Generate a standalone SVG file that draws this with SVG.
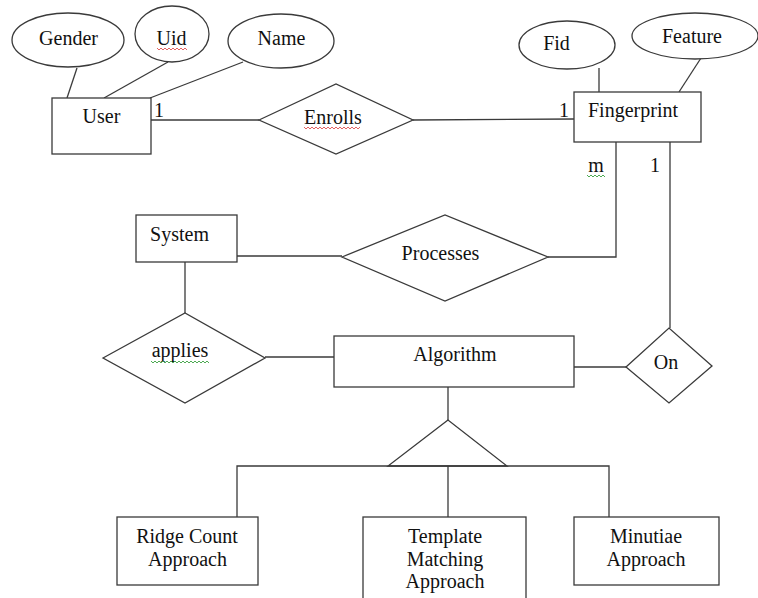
<svg xmlns="http://www.w3.org/2000/svg" width="758" height="598" viewBox="0 0 758 598">
<defs>
<style>
.s{fill:#fff;stroke:#3a3a3a;stroke-width:1.3}
.c{fill:none;stroke:#3a3a3a;stroke-width:1.3}
text{font-family:"Liberation Serif","Times New Roman",serif;font-size:20px;fill:#111;text-anchor:middle}
.sqr{fill:none;stroke:#e05050;stroke-width:0.9}
.sqg{fill:none;stroke:#3aa040;stroke-width:0.9}
</style>
</defs>
<rect width="758" height="598" fill="#fff"/>
<g id="connectors">
<line class="c" x1="77" y1="68" x2="67" y2="98"/>
<line class="c" x1="168" y1="62" x2="104" y2="98"/>
<line class="c" x1="243" y1="62" x2="150" y2="98"/>
<line class="c" x1="151" y1="120" x2="259" y2="120"/>
<line class="c" x1="413" y1="120" x2="574" y2="119"/>
<line class="c" x1="599" y1="68" x2="599" y2="92"/>
<line class="c" x1="701" y1="58" x2="679" y2="92"/>
<polyline class="c" points="616,142 616,257 548,257"/>
<line class="c" x1="670" y1="142" x2="670" y2="328"/>
<line class="c" x1="237" y1="256" x2="342" y2="256"/>
<line class="c" x1="185" y1="262" x2="185" y2="313"/>
<line class="c" x1="265" y1="357" x2="334" y2="357"/>
<line class="c" x1="574" y1="367" x2="626" y2="367"/>
<line class="c" x1="448" y1="387" x2="448" y2="420"/>
<polygon class="c" points="448,420 388,466 507,466"/>
<polyline class="c" points="237,517 237,466 609,466 609,517"/>
<line class="c" x1="448" y1="466" x2="448" y2="517"/>
</g>
<g id="gender"><ellipse class="s" cx="68" cy="40" rx="56" ry="27"/><text x="68.5" y="45">Gender</text></g>
<g id="uid"><ellipse class="s" cx="172" cy="34" rx="37" ry="28"/><text x="171.5" y="45">Uid</text><path class="sqr" d="M157,48 l2,2 l2,-2 l2,2 l2,-2 l2,2 l2,-2 l2,2 l2,-2 l2,2 l2,-2 l2,2 l2,-2 l2,2 l2,-2 l2,2"/></g>
<g id="name"><ellipse class="s" cx="281" cy="41" rx="53" ry="27"/><text x="281.5" y="45">Name</text></g>
<g id="user"><rect class="s" x="52" y="98" width="99" height="56"/><text x="101.5" y="123">User</text></g>
<g id="card-user"><text x="159" y="117">1</text></g>
<g id="enrolls"><polygon class="s" points="259,120 336,84 413,120 336,154"/><text x="333" y="124">Enrolls</text><path class="sqr" d="M304,127 l2,2 l2,-2 l2,2 l2,-2 l2,2 l2,-2 l2,2 l2,-2 l2,2 l2,-2 l2,2 l2,-2 l2,2 l2,-2 l2,2 l2,-2 l2,2 l2,-2 l2,2 l2,-2 l2,2 l2,-2 l2,2 l2,-2 l2,2 l2,-2 l2,2 l2,-2"/></g>
<g id="fid"><ellipse class="s" cx="567" cy="45" rx="48" ry="24"/><text x="556.5" y="50">Fid</text></g>
<g id="feature"><ellipse class="s" cx="695" cy="36" rx="63" ry="23"/><text x="692" y="43">Feature</text></g>
<g id="fingerprint"><rect class="s" x="574" y="92" width="127" height="50"/><text x="633" y="117">Fingerprint</text></g>
<g id="card-fp"><text x="564" y="117">1</text><text x="596" y="172">m</text><path class="sqg" d="M587,175 l2,2 l2,-2 l2,2 l2,-2 l2,2 l2,-2 l2,2 l2,-2 l2,2"/><text x="655" y="172">1</text></g>
<g id="system"><rect class="s" x="136" y="215" width="101" height="47"/><text x="179.5" y="241">System</text></g>
<g id="processes"><polygon class="s" points="342,257 445,215 548,257 445,301"/><text x="440.5" y="260">Processes</text></g>
<g id="applies"><polygon class="s" points="103,358 185,313 265,358 185,403"/><text x="180" y="357">applies</text><path class="sqg" d="M151,361 l2,2 l2,-2 l2,2 l2,-2 l2,2 l2,-2 l2,2 l2,-2 l2,2 l2,-2 l2,2 l2,-2 l2,2 l2,-2 l2,2 l2,-2 l2,2 l2,-2 l2,2 l2,-2 l2,2 l2,-2 l2,2 l2,-2 l2,2 l2,-2 l2,2 l2,-2 l2,2"/></g>
<g id="algorithm"><rect class="s" x="334" y="336" width="240" height="51"/><text x="455" y="361">Algorithm</text></g>
<g id="on"><polygon class="s" points="626,367 669,328 712,366 669,403"/><text x="666" y="369">On</text></g>
<g id="ridge"><rect class="s" x="117" y="517" width="141" height="68"/><text x="187" y="543">Ridge Count</text><text x="187.5" y="566">Approach</text></g>
<g id="template"><rect class="s" x="363" y="517" width="163" height="90"/><text x="445" y="543">Template</text><text x="445" y="566">Matching</text><text x="445" y="588">Approach</text></g>
<g id="minutiae"><rect class="s" x="574" y="517" width="145" height="68"/><text x="646" y="543">Minutiae</text><text x="646" y="566">Approach</text></g>
</svg>
